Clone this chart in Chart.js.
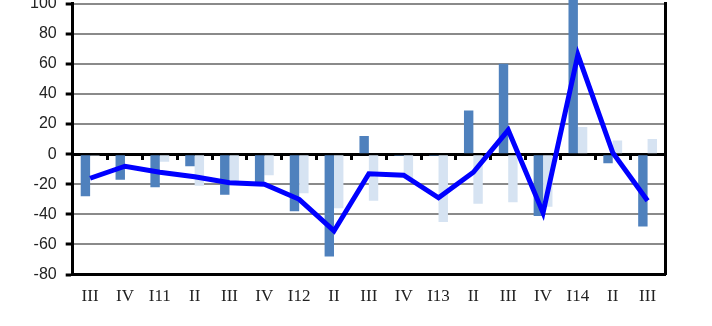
<!DOCTYPE html>
<html>
<head>
<meta charset="utf-8">
<script src="https://cdn.jsdelivr.net/npm/chart.js@4/dist/chart.umd.min.js"></script>
<style>
  html, body { margin: 0; padding: 0; background: #fff; overflow: hidden; }
  #wrap { position: absolute; left: 0; top: -15px; width: 712px; height: 354px; }
</style>
</head>
<body>
<div id="wrap"><canvas id="c"></canvas></div>
<script>
const categories = ["III", "IV", "I11", "II", "III", "IV", "I12", "II", "III", "IV", "I13", "II", "III", "IV", "I14", "II", "III"];
const darkBars  = [-28, -17, -22, -8, -27, -19, -38, -68, 12, -1, -1, 29, 60, -41, 110, -6, -48];
const lightBars = [-1, 0, -5, -21, -19, -14, -26, -36, -31, -16, -45, -33, -32, -35, 18, 9, 10];
const lineValues = [-16, -8, -12, -15, -19, -20, -30, -51, -13, -14, -29, -12, 16, -39, 66, 1, -31];
const yTicks = [-80, -60, -40, -20, 0, 20, 40, 60, 80, 100];

new Chart(document.getElementById('c'), {
  type: 'bar',
  data: {
    labels: categories,
    datasets: [
      { type: 'line', data: lineValues, borderColor: '#0000ff', borderWidth: 5, pointRadius: 0,
        tension: 0, fill: false, order: 0, xAxisID: 'x', yAxisID: 'y' },
      { data: darkBars, backgroundColor: '#4f81bd', order: 1, xAxisID: 'x', yAxisID: 'y',
        categoryPercentage: 0.54, barPercentage: 1.0, clip: { left: 0, top: false, right: 0, bottom: 0 } },
      { data: lightBars, backgroundColor: '#d6e3f2', order: 1, xAxisID: 'x', yAxisID: 'y',
        categoryPercentage: 0.54, barPercentage: 1.0 }
    ]
  },
  options: {
    responsive: true,
    maintainAspectRatio: false,
    animation: false,
    layout: { padding: { left: 21, right: 47, top: 0, bottom: 20 } },
    plugins: { legend: { display: false }, tooltip: { enabled: false } },
    scales: {
      x: {
        type: 'category', position: 'bottom', offset: true,
        grid: { display: true, drawOnChartArea: false, drawTicks: false, offset: true },
        border: { display: true, color: '#000', width: 3 },
        ticks: { color: '#222', padding: 12, maxRotation: 0, autoSkip: false,
                 font: { family: 'Liberation Serif', size: 17 } }
      },
      x0: {
        type: 'category', position: { y: 0 }, offset: true,
        grid: { display: true, drawOnChartArea: false, drawTicks: true, offset: true,
                tickLength: 4, tickWidth: 3, tickColor: '#000' },
        border: { display: true, color: '#000', width: 3 },
        ticks: { display: false }
      },
      y: {
        type: 'linear', position: 'left', min: -80, max: 100,
        afterBuildTicks: (axis) => { axis.ticks = yTicks.map(v => ({ value: v })); },
        grid: { color: '#8a8a8a', lineWidth: 2, drawTicks: true, tickLength: 7,
                tickColor: '#000', tickWidth: 3 },
        border: { display: true, color: '#000', width: 3 },
        ticks: { color: '#222', padding: 9, font: { family: 'Liberation Sans', size: 16 } }
      },
      y2: {
        type: 'linear', position: 'right', min: -80, max: 100,
        grid: { display: false, drawTicks: false },
        border: { display: true, color: '#000', width: 3 },
        ticks: { display: false }
      }
    }
  }
});
</script>
</body>
</html>
